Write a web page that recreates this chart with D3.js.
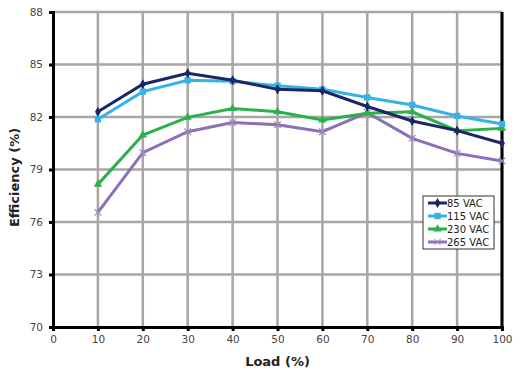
<!DOCTYPE html>
<html>
<head>
<meta charset="utf-8">
<script src="https://cdn.jsdelivr.net/npm/d3@7"></script>
<style>
  body { margin: 0; background: #fff; }
  svg { display: block; font-family: "DejaVu Sans", Verdana, sans-serif; }
</style>
</head>
<body>
<div id="chart"></div>
<script>
const loads = [10, 20, 30, 40, 50, 60, 70, 80, 90, 100];
const vac85 = [82.3, 83.87, 84.5, 84.1, 83.58, 83.5, 82.6, 81.77, 81.22, 80.5];
const vac115 = [81.87, 83.45, 84.1, 84.04, 83.79, 83.58, 83.12, 82.69, 82.06, 81.6];
const vac230 = [78.15, 80.97, 81.98, 82.48, 82.3, 81.83, 82.21, 82.3, 81.22, 81.35];
const vac265 = [76.55, 79.96, 81.16, 81.68, 81.56, 81.16, 82.25, 80.78, 79.92, 79.49];
const seriesNames = ["85 VAC", "115 VAC", "230 VAC", "265 VAC"];
const xTicks = [0, 10, 20, 30, 40, 50, 60, 70, 80, 90, 100];
const yTicks = [70, 73, 76, 79, 82, 85, 88];

const W = 523, H = 378;
const margin = { top: 12, right: 21, bottom: 51, left: 53 };
const w = W - margin.left - margin.right;
const h = H - margin.top - margin.bottom;

const svg = d3.select("#chart").append("svg")
    .attr("width", W)
    .attr("height", H);
const g = svg.append("g")
    .attr("transform", `translate(${margin.left}, ${margin.top})`);

const x = d3.scaleLinear().domain([0, 100]).range([0, w]);
const y = d3.scaleLinear().domain([70, 88]).range([h, 0]);

// grid
g.append("g").selectAll("line")
    .data(xTicks.slice(1))
    .join("line")
    .attr("x1", d => x(d)).attr("x2", d => x(d))
    .attr("y1", 0).attr("y2", h)
    .attr("stroke", "#a6a6a6").attr("stroke-width", 2.5);
g.append("g").selectAll("line")
    .data(yTicks.slice(1))
    .join("line")
    .attr("x1", 0).attr("x2", w)
    .attr("y1", d => y(d)).attr("y2", d => y(d))
    .attr("stroke", "#a6a6a6").attr("stroke-width", 2.5);

// right border
g.append("line")
    .attr("x1", w).attr("x2", w).attr("y1", 0).attr("y2", h)
    .attr("stroke", "#000").attr("stroke-width", 3);

// axes
const xAxis = g.append("g")
    .attr("transform", `translate(0, ${h})`)
    .call(d3.axisBottom(x).tickValues(xTicks).tickSize(4).tickPadding(5));
const yAxis = g.append("g")
    .call(d3.axisLeft(y).tickValues(yTicks).tickSize(4).tickPadding(6));
[xAxis, yAxis].forEach(a => {
    a.select(".domain").attr("stroke", "#000").attr("stroke-width", 3);
    a.selectAll(".tick line").attr("stroke", "#000").attr("stroke-width", 3);
    a.selectAll(".tick text")
        .attr("fill", "#444")
        .style("font-size", "10.5px")
        .style("font-family", "'DejaVu Sans', Verdana, sans-serif");
});

// axis titles
svg.append("text")
    .attr("x", margin.left + w / 2)
    .attr("y", 366)
    .attr("text-anchor", "middle")
    .style("font-size", "13px").style("font-weight", "bold")
    .attr("fill", "#222")
    .text("Load (%)");
svg.append("text")
    .attr("transform", `translate(19, ${margin.top + h / 2 + 8}) rotate(-90)`)
    .attr("text-anchor", "middle")
    .style("font-size", "13px").style("font-weight", "bold")
    .attr("fill", "#222")
    .text("Efficiency (%)");

const colors = ["#1c2566", "#35b3e6", "#2ab14b", "#8b6fb8"];
const symbols = [d3.symbolDiamond, d3.symbolSquare, d3.symbolTriangle, d3.symbolX];
const sizes = [30, 40, 30, 30];
const allSeries = [vac85, vac115, vac230, vac265];

const line = d3.line()
    .x((d, i) => x(loads[i]))
    .y(d => y(d));

// draw back to front so 85 VAC is on top like the original
[3, 2, 1, 0].forEach(si => {
    const vals = allSeries[si];
    g.append("path")
        .datum(vals)
        .attr("d", line)
        .attr("fill", "none")
        .attr("stroke", colors[si])
        .attr("stroke-width", 3);
    g.append("g").selectAll("path")
        .data(vals)
        .join("path")
        .attr("transform", (d, i) => `translate(${x(loads[i])}, ${y(d)})`)
        .attr("d", d3.symbol().type(symbols[si]).size(sizes[si]))
        .attr("fill", si === 3 ? "none" : colors[si])
        .attr("stroke", si === 3 ? "#9a8ac0" : "none")
        .attr("stroke-width", 1.2);
});

// legend
const lg = svg.append("g").attr("transform", "translate(423, 196)");
lg.append("rect")
    .attr("width", 71).attr("height", 53)
    .attr("fill", "#fff")
    .attr("stroke", "#333").attr("stroke-width", 1);
seriesNames.forEach((name, i) => {
    const ry = 7 + i * 13;
    lg.append("line")
        .attr("x1", 5).attr("x2", 24).attr("y1", ry).attr("y2", ry)
        .attr("stroke", colors[i]).attr("stroke-width", 3);
    lg.append("path")
        .attr("transform", `translate(14.5, ${ry})`)
        .attr("d", d3.symbol().type(symbols[i]).size(sizes[i]))
        .attr("fill", i === 3 ? "none" : colors[i])
        .attr("stroke", i === 3 ? "#9a8ac0" : "none");
    lg.append("text")
        .attr("x", 24).attr("y", ry + 3.5)
        .style("font-size", "10px")
        .attr("fill", "#222")
        .text(name);
});
</script>
</body>
</html>
